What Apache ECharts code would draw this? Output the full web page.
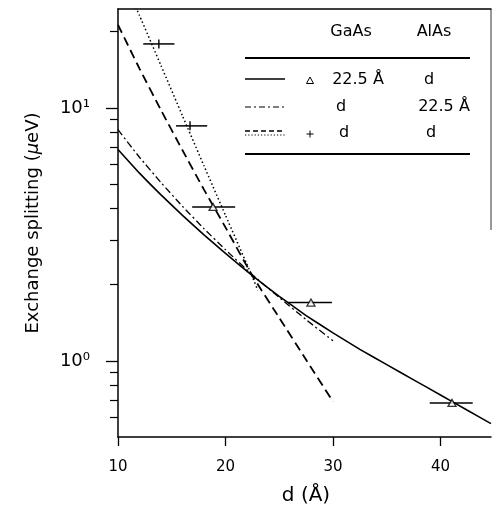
<!DOCTYPE html>
<html><head><meta charset="utf-8">
<script src="https://cdn.jsdelivr.net/npm/echarts@6/dist/echarts.min.js"></script>
<style>html,body{margin:0;padding:0;background:#fff}#c{width:492px;height:508px}</style>
</head><body><div id="c"></div>
<script>
// ---- axes ----
const xMin = 10, xMax = 44.7;
const yMin = 0.5, yMax = 24.6;
const xTicks = [10, 20, 30, 40];
const yMajor = [1, 10];
const yMinor = [0.6, 0.7, 0.8, 0.9, 2, 3, 4, 5, 6, 7, 8, 9, 20];

// ---- curves ----
const dSolid = [10, 12, 14, 16, 18, 20, 22.5, 25, 27.5, 30, 32.5, 35, 37.5, 40, 42.5, 44.7];
const vSolid = [6.85, 5.52, 4.53, 3.76, 3.15, 2.66, 2.17, 1.80, 1.51, 1.29, 1.11, 0.966, 0.841, 0.733, 0.638, 0.565];
const dDashDot = [10, 12, 14, 16, 18, 20, 22.5, 25, 27.5, 30];
const vDashDot = [8.2, 6.38, 5.07, 4.08, 3.33, 2.75, 2.19, 1.78, 1.455, 1.20];
const dDashed = [10, 12, 14, 16, 18, 20, 22.5, 25, 27.5, 30];
const vDashed = [21.3, 14.3, 9.8, 6.8, 4.75, 3.37, 2.17, 1.48, 1.01, 0.69];
const dDotted = [11.5, 12, 14, 16, 18, 20, 22.5, 23];
const vDotted = [25.9, 23.2, 14.7, 9.3, 5.9, 3.76, 2.15, 1.9];

// ---- measured points (x, value, error bar low/high in d) ----
const triD = [18.84, 27.95, 41.07];
const triV = [4.06, 1.70, 0.682];
const triLo = [16.9, 25.8, 39.0];
const triHi = [20.9, 29.9, 43.0];
const plusD = [13.8, 16.7];
const plusV = [17.9, 8.49];
const plusLo = [12.35, 15.4];
const plusHi = [15.25, 18.3];

const F = '"DejaVu Sans", sans-serif';
const pairs = (xs, ys) => xs.map((x, i) => [x, ys[i]]);

const bars = triD.map((d, i) => [triLo[i], triHi[i], triV[i]])
  .concat(plusD.map((d, i) => [plusLo[i], plusHi[i], plusV[i]]));

function renderBar(params, api) {
  const y = api.value(2);
  const a = api.coord([api.value(0), y]);
  const b = api.coord([api.value(1), y]);
  return { type: 'line', shape: { x1: a[0], y1: a[1], x2: b[0], y2: b[1] },
    style: { stroke: '#000', lineWidth: 1.5 } };
}
function renderPlus(params, api) {
  const p = api.coord([api.value(0), api.value(1)]);
  return { type: 'line', shape: { x1: p[0], y1: p[1] - 4.5, x2: p[0], y2: p[1] + 4.5 },
    style: { stroke: '#000', lineWidth: 1.4 } };
}

const chart = echarts.init(document.getElementById('c'), null, { renderer: 'canvas' });
const black = '#000';

const L = (x1, y1, x2, y2, extra) => Object.assign({ type: 'line', shape: { x1, y1, x2, y2 },
  style: Object.assign({ stroke: black, lineWidth: 1.4 }, extra || {}) });
const T = (x, y, text, size) => ({ type: 'text', x, y,
  style: { text, fill: black, font: (size || 16) + 'px ' + F, align: 'center', verticalAlign: 'middle' } });

const option = {
  animation: false,
  backgroundColor: '#fff',
  grid: { left: 118, top: 9, right: 1, bottom: 71, containLabel: false },
  xAxis: [{
    type: 'value', min: xMin, max: xMax, position: 'bottom',
    axisLine: { show: true, onZero: false, lineStyle: { color: black, width: 1.5 } },
    axisTick: { show: true, customValues: xTicks, length: 9, lineStyle: { color: black, width: 1.3 } },
    axisLabel: { customValues: xTicks, color: black, fontFamily: F, fontSize: 15, margin: 23 },
    splitLine: { show: false }
  }, {
    type: 'value', min: xMin, max: xMax, position: 'top',
    axisLine: { show: true, onZero: false, lineStyle: { color: black, width: 1.5 } },
    axisTick: { show: false }, axisLabel: { show: false }, splitLine: { show: false }
  }],
  yAxis: [{
    type: 'log', logBase: 10, min: yMin, max: yMax, position: 'left',
    axisLine: { show: true, onZero: false, lineStyle: { color: black, width: 1.5 } },
    axisTick: { show: true, customValues: yMajor, length: 12, lineStyle: { color: black, width: 1.3 } },
    axisLabel: { customValues: yMajor, color: black, fontFamily: F, fontSize: 18, margin: 28,
      formatter: v => Math.round(Math.log10(v)) === 0 ? '10\u2070' : '10\u00B9' },
    splitLine: { show: false }, minorTick: { show: false }
  }, {
    type: 'log', logBase: 10, min: yMin, max: yMax, position: 'left',
    axisLine: { show: false },
    axisTick: { show: true, customValues: yMinor, length: 8, lineStyle: { color: black, width: 1.2 } },
    axisLabel: { show: false }, splitLine: { show: false }
  }],
  series: [
    { type: 'line', data: pairs(dSolid, vSolid), showSymbol: false, smooth: 0.1,
      lineStyle: { color: black, width: 1.6 } },
    { type: 'line', data: pairs(dDashDot, vDashDot), showSymbol: false, smooth: 0.15,
      lineStyle: { color: black, width: 1.3, type: [7, 3, 2, 3] } },
    { type: 'line', data: pairs(dDashed, vDashed), showSymbol: false, smooth: 0.15,
      lineStyle: { color: black, width: 1.8, type: [9, 5] } },
    { type: 'line', data: pairs(dDotted, vDotted), showSymbol: false, smooth: 0.15,
      lineStyle: { color: black, width: 1.5, type: [1.5, 2.5] } },
    { type: 'custom', renderItem: renderBar, data: bars, encode: { x: [0, 1], y: 2 }, z: 5 },
    { type: 'custom', renderItem: renderPlus, data: pairs(plusD, plusV), encode: { x: 0, y: 1 }, z: 6 },
    { type: 'scatter', data: pairs(triD, triV), symbol: 'triangle', symbolSize: [8, 7], z: 7,
      itemStyle: { color: '#fff', borderColor: black, borderWidth: 1.3 } }
  ],
  graphic: [
    // right frame (partially visible in the reference)
    L(491, 9, 491, 230, { stroke: '#555', lineWidth: 1.2 }),
    // axis titles
    { type: 'text', x: 33, y: 223, rotation: Math.PI / 2,
      style: { text: '{n|Exchange splitting (}{i|\u03BC}{n|eV)}', align: 'center', verticalAlign: 'middle',
        rich: { n: { font: '18px ' + F, fill: black }, i: { font: 'italic 18px ' + F, fill: black } } } },
    T(306, 496, 'd (\u00C5)', 20),
    // legend table
    T(351, 32, 'GaAs', 16), T(434, 32, 'AlAs', 16),
    L(245, 58, 470, 58, { lineWidth: 2 }),
    L(245, 79, 285, 79),
    { type: 'polygon', shape: { points: [[310, 77], [313.5, 83.5], [306.5, 83.5]] },
      style: { fill: '#fff', stroke: black, lineWidth: 1 } },
    T(358, 80, '22.5 \u00C5', 16), T(429, 80, 'd', 16),
    L(245, 107, 285, 107, { lineDash: [6, 3, 2, 3], lineWidth: 1.2 }),
    T(341, 107, 'd', 16), T(444, 107, '22.5 \u00C5', 16),
    L(245, 131, 285, 131, { lineDash: [5, 3], lineWidth: 1.3 }),
    L(245, 135, 285, 135, { lineDash: [1.2, 2], lineWidth: 1.2 }),
    L(306.5, 134, 313.5, 134, { lineWidth: 1 }), L(310, 130.5, 310, 137.5, { lineWidth: 1 }),
    T(344, 133, 'd', 16), T(431, 133, 'd', 16),
    L(245, 154, 470, 154, { lineWidth: 2 })
  ]
};
chart.setOption(option);
</script>
</body></html>
